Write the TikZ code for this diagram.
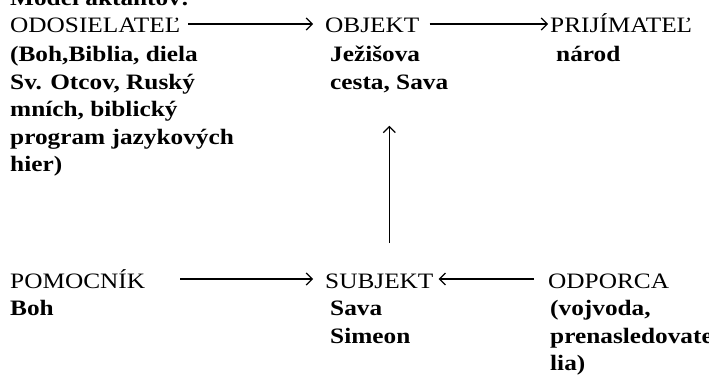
\documentclass[tikz,border=0pt]{standalone}
\usepackage{fontspec}
\setmainfont{Liberation Serif}[FakeStretch=1.15]
\usetikzlibrary{arrows.meta}
\newcommand{\firstline}{\rule{0pt}{19.25pt}}
\tikzstyle{role}=[anchor=base west,inner sep=0pt,font=\fontsize{22}{27.5}\selectfont]
\tikzstyle{detail}=[anchor=north west,inner sep=0pt,align=left,font=\fontsize{22}{27.5}\selectfont\bfseries]
\tikzstyle{link}=[draw,line width=1.2pt,-{Straight Barb[length=6pt,width=12pt]}]

\begin{document}
\begin{tikzpicture}[x=1pt,y=-1pt]
	\useasboundingbox (0,0) rectangle (709,385);
	% the cut-off heading line
	\node[detail] (head) at (10,-13.75) {\firstline Model aktantov:};

	% First we draw the actants
	\foreach \pos/\name/\txt in {{(10,33)/odos/ODOSIELATEĽ}, {(325,33)/obj/OBJEKT},
								{(550,33)/prij/PRIJÍMATEĽ}, {(10,288)/pom/POMOCNÍK},
								{(325,288)/subj/SUBJEKT}, {(548,288)/odp/ODPORCA}}
	\node[role] (\name) at \pos {\txt};

	% and what stands for them (\firstline is 19.25 above the first baseline)
	\node[detail] (odosdet) at (10,42.25) {\firstline(Boh,Biblia, diela\\Sv. Otcov, Ruský\\mních, biblický\\program jazykových\\hier)};
	\node[detail] (objdet) at (330,42.25) {\firstline Ježišova\\cesta, Sava};
	\node[detail] (prijdet) at (556,42.25) {\firstline národ};
	\node[detail] (pomdet) at (10,296.25) {\firstline Boh};
	\node[detail] (subjdet) at (330,296.25) {\firstline Sava\\Simeon};
	\node[detail] (odpdet) at (550,296.25) {\firstline(vojvoda,\\prenasledovate\\lia)};

	% Connect the actants
	\path[link] ([xshift=8pt,yshift=9pt]odos.base east) -- ([xshift=-12pt,yshift=9pt]obj.base west);
	\path[link] ([xshift=10pt,yshift=9pt]obj.base east) -- ([xshift=-2pt,yshift=9pt]prij.base west);
	\path[link] ([yshift=9pt]odos.base east |- pom.base) -- ([xshift=-12pt,yshift=9pt]subj.base west);
	\path[link] ([xshift=-14pt,yshift=9pt]odp.base west) -- ([xshift=5pt,yshift=9pt]subj.base east);
	\path[link] ([xshift=10pt,yshift=30pt]subj.north) -- ([xshift=10pt,yshift=-33pt]subj.north |- objdet.south);
\end{tikzpicture}
\end{document}
